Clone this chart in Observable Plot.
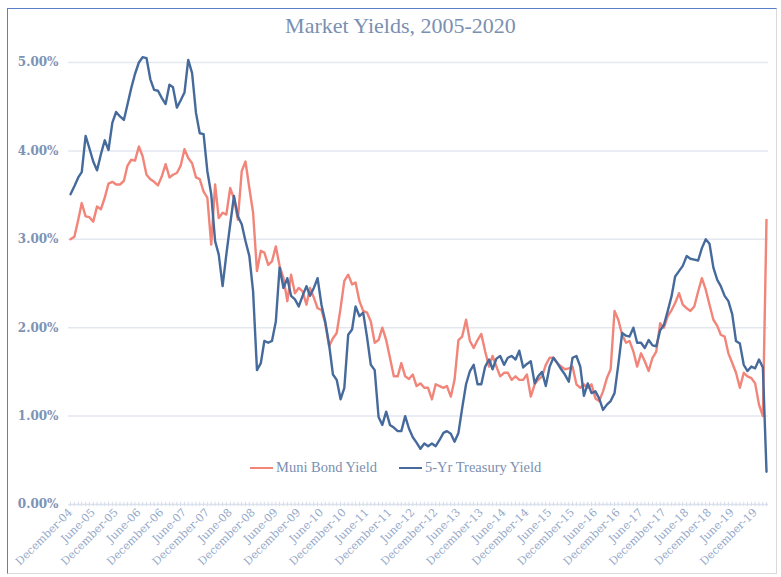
<!DOCTYPE html>
<html>
<head>
<meta charset="utf-8">
<script src="https://cdn.jsdelivr.net/npm/d3@7"></script>
<script src="https://cdn.jsdelivr.net/npm/@observablehq/plot@0.6"></script>
<style>
  body { margin: 0; background: #fff; }
  #wrap { position: relative; width: 781px; height: 577px; overflow: hidden; background: #fff; }
  #frame { position: absolute; left: 7px; top: 8px; width: 770px; height: 566px; border: 1px solid #d9d9d9; border-top-color: #5680c8; border-left-color: #5680c8; box-sizing: border-box; }
  #title { position: absolute; top: 13px; left: 10px; width: 781px; text-align: center; font-family: "Liberation Serif", serif; font-size: 22px; color: #7a8fb1; }
  #chart { position: absolute; top: 48px; left: 0; }
  .leg { position: absolute; top: 459px; font-family: "Liberation Serif", serif; font-size: 14.5px; color: #7a8fb1; display: flex; align-items: center; white-space: nowrap; }
  .sw { display: inline-block; width: 23px; height: 0; border-top: 2.5px solid; margin-right: 3px; }
</style>
</head>
<body>
<div id="wrap">
  <div id="frame"></div>
  <div id="title">Market Yields, 2005-2020</div>
  <div id="chart"></div>
  <div class="leg" style="left:250px"><span class="sw" style="border-color:#f28579"></span>Muni Bond Yield</div>
  <div class="leg" style="left:399px"><span class="sw" style="border-color:#456a9b"></span>5-Yr Treasury Yield</div>
</div>
<script>
// Monthly observations, December 2004 through March 2020
const startMonth = [2004, 11];
const monthCount = 184;

const muniYield = [
3.00,3.03,3.22,3.41,3.26,3.25,3.20,3.37,3.34,3.47,3.63,3.65,3.62,3.62,3.66,3.83,3.90,3.89,4.05,3.94,
3.73,3.68,3.65,3.61,3.71,3.85,3.70,3.73,3.75,3.83,4.02,3.92,3.86,3.70,3.68,3.54,3.47,2.94,3.62,3.24,
3.30,3.28,3.58,3.46,3.22,3.77,3.88,3.58,3.30,2.64,2.87,2.85,2.71,2.75,2.92,2.70,2.56,2.30,2.60,2.39,
2.45,2.41,2.26,2.45,2.34,2.22,2.20,2.05,1.79,1.88,1.94,2.22,2.53,2.60,2.49,2.51,2.30,2.19,2.17,2.07,
1.83,1.86,2.00,1.86,1.66,1.45,1.45,1.60,1.45,1.42,1.47,1.34,1.37,1.32,1.32,1.19,1.36,1.34,1.32,1.34,
1.22,1.41,1.86,1.90,2.09,1.85,1.77,1.86,1.93,1.73,1.56,1.68,1.56,1.45,1.49,1.49,1.41,1.45,1.41,1.41,
1.47,1.22,1.36,1.41,1.45,1.58,1.66,1.66,1.60,1.56,1.53,1.54,1.56,1.36,1.32,1.36,1.32,1.36,1.20,1.17,
1.28,1.43,1.53,2.19,2.09,1.92,1.83,1.85,1.73,1.56,1.71,1.62,1.51,1.66,1.73,2.05,2.00,2.13,2.20,2.28,
2.39,2.26,2.22,2.19,2.24,2.41,2.56,2.43,2.26,2.09,2.02,1.92,1.90,1.71,1.60,1.49,1.32,1.49,1.45,1.43,
1.37,1.13,1.00,3.22
];

const treasuryYield = [
3.51,3.60,3.70,3.76,4.17,4.03,3.88,3.78,3.96,4.12,4.01,4.32,4.44,4.39,4.35,4.52,4.71,4.87,5.00,5.06,
5.05,4.81,4.69,4.68,4.60,4.53,4.75,4.72,4.49,4.57,4.66,5.03,4.88,4.43,4.20,4.19,3.77,3.51,2.98,2.83,
2.47,2.83,3.17,3.49,3.26,3.17,2.98,2.81,2.41,1.52,1.60,1.85,1.83,1.85,2.07,2.68,2.45,2.56,2.36,2.32,
2.24,2.36,2.47,2.36,2.45,2.56,2.26,2.07,1.81,1.47,1.41,1.19,1.32,1.92,1.98,2.24,2.13,2.17,1.89,1.58,
1.52,0.99,0.90,1.05,0.90,0.87,0.83,0.83,1.00,0.86,0.76,0.70,0.63,0.69,0.66,0.69,0.66,0.73,0.81,0.83,
0.80,0.71,0.81,1.09,1.36,1.51,1.58,1.36,1.36,1.56,1.64,1.53,1.65,1.68,1.58,1.66,1.68,1.64,1.74,1.55,
1.59,1.62,1.37,1.45,1.50,1.34,1.56,1.66,1.60,1.53,1.47,1.39,1.66,1.68,1.56,1.23,1.37,1.26,1.28,1.20,
1.07,1.13,1.17,1.26,1.58,1.94,1.91,1.90,2.00,1.83,1.83,1.77,1.86,1.80,1.79,1.97,2.03,2.19,2.36,2.58,
2.64,2.70,2.81,2.78,2.77,2.76,2.90,3.00,2.95,2.68,2.54,2.47,2.36,2.30,2.15,1.85,1.82,1.58,1.51,1.56,
1.54,1.64,1.55,0.37
];

const yTicks = [0, 1, 2, 3, 4, 5];
const labelEvery = 6; // label every sixth month: December and June

const start = new Date(Date.UTC(startMonth[0], startMonth[1], 1));
const months = d3.range(monthCount).map(i => d3.utcMonth.offset(start, i));
const labelMonths = months.filter((d, i) => i % labelEvery === 0);
const rows = months.map((d, i) => ({date: d, muni: muniYield[i], tsy: treasuryYield[i]}));
const fmtMonth = d3.utcFormat("%B-%y");

const chart = Plot.plot({
  width: 781,
  height: 529,
  marginLeft: 68,
  marginRight: 13,
  marginTop: 14,
  marginBottom: 73,
  insetLeft: 2,
  insetRight: 2,
  style: {fontFamily: "'DejaVu Serif', serif", background: "transparent", overflow: "visible"},
  x: {type: "utc", domain: [months[0], months[months.length - 1]]},
  y: {domain: [0, 5]},
  marks: [
    Plot.ruleY(yTicks.filter(d => d > 0), {stroke: "#e3e8f0", strokeWidth: 1.5}),
    Plot.ruleY([0], {stroke: "#dde3ed", strokeWidth: 1.5}),
    Plot.ruleX(months, {x: d => d, y1: -0.025, y2: 0.025, stroke: "#d6dde9", strokeWidth: 1}),
    Plot.axisX({ticks: labelMonths, tickFormat: fmtMonth, tickSize: 0, tickPadding: 6, tickRotate: -45,
      fill: "#94a8c8", fontSize: 11, label: null}),
    Plot.axisY({ticks: yTicks, tickFormat: d => d.toFixed(2) + "%", tickSize: 0, tickPadding: 10,
      fill: "#7d93b5", fontSize: 12, fontWeight: "bold", label: null}),
    Plot.line(rows, {x: "date", y: "muni", stroke: "#f28579", strokeWidth: 2.4}),
    Plot.line(rows, {x: "date", y: "tsy", stroke: "#456a9b", strokeWidth: 2.4})
  ]
});
document.getElementById("chart").appendChild(chart);
</script>
</body>
</html>
